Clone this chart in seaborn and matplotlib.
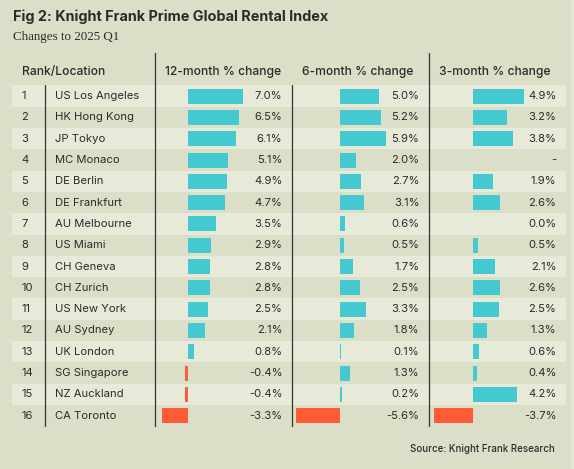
import matplotlib
matplotlib.use("Agg")
import matplotlib.pyplot as plt
import matplotlib.transforms as mtransforms
import numpy as np
import pandas as pd
import seaborn as sns

# ---------------------------------------------------------------------------
# Data (read off the Knight Frank table)
# ---------------------------------------------------------------------------
ranks = list(range(1, 17))
locations = ["US Los Angeles", "HK Hong Kong", "JP Tokyo", "MC Monaco",
             "DE Berlin", "DE Frankfurt", "AU Melbourne", "US Miami",
             "CH Geneva", "CH Zurich", "US New York", "AU Sydney",
             "UK London", "SG Singapore", "NZ Auckland", "CA Toronto"]
change_12m = [7.0, 6.5, 6.1, 5.1, 4.9, 4.7, 3.5, 2.9,
              2.8, 2.8, 2.5, 2.1, 0.8, -0.4, -0.4, -3.3]
change_6m = [5.0, 5.2, 5.9, 2.0, 2.7, 3.1, 0.6, 0.5,
             1.7, 2.5, 3.3, 1.8, 0.1, 1.3, 0.2, -5.6]
change_3m = [4.9, 3.2, 3.8, np.nan, 1.9, 2.6, 0.0, 0.5,
             2.1, 2.6, 2.5, 1.3, 0.6, 0.4, 4.2, -3.7]
headers = ["12-month % change", "6-month % change", "3-month % change"]

# ---------------------------------------------------------------------------
# Style
# ---------------------------------------------------------------------------
sns.set_style("white")
plt.rcParams["font.family"] = ["Inter", "DejaVu Sans"]

BG = "#dcdfc8"
STRIPE = "#e7ead8"
TEAL = "#45c9d1"
RED = "#ff5b36"
INK = "#2b2b2b"
LINE = "#333333"

W, H = 574, 469
ROW_TOP = 85.5
PITCH = 21.3
ROW_BOTTOM = ROW_TOP + 16 * PITCH

fig = plt.figure(figsize=(W / 100, H / 100), dpi=100, facecolor=BG)

# background axes in pixel coordinates for stripes, rules and text
bg = fig.add_axes([0, 0, 1, 1])
bg.set_xlim(0, W)
bg.set_ylim(H, 0)
bg.axis("off")
bg.set_facecolor(BG)

bg.axvspan(571, W, color="#e6e8d7", lw=0)

for i in range(16):
    if i % 2 == 0:
        bg.fill_between([12, 566], ROW_TOP + i * PITCH, ROW_TOP + (i + 1) * PITCH,
                        color=STRIPE, lw=0)

bg.text(13, 17, "Fig 2: Knight Frank Prime Global Rental Index",
        fontsize=10.4, fontweight="bold", color=INK, va="center", ha="left")
bg.text(13, 37, "Changes to 2025 Q1", fontsize=9.4, color=INK,
        va="center", ha="left", family=["Liberation Serif", "DejaVu Serif"])

bg.text(22, 72, "Rank/Location", fontsize=8.7, fontweight="medium",
        color=INK, va="center")
for x, h in zip([165, 302, 439], headers):
    bg.text(x, 72, h, fontsize=8.7, fontweight="medium", color=INK, va="center")

for i, (r, loc) in enumerate(zip(ranks, locations)):
    yc = ROW_TOP + (i + 0.5) * PITCH
    bg.text(21, yc, str(r), fontsize=8.1, color=INK, va="center", ha="left")
    bg.text(55, yc, loc, fontsize=8.1, color=INK, va="center", ha="left")

for x, y0 in [(45, ROW_TOP), (155, 53), (292, ROW_TOP), (429, 53)]:
    bg.plot([x, x], [y0, ROW_BOTTOM], color=LINE, lw=0.9)

bg.text(555, 449, "Source: Knight Frank Research", fontsize=7, fontweight="medium",
        color=INK, va="center", ha="right")

# ---------------------------------------------------------------------------
# Bar columns: (values, left px, zero px, px per %)
# ---------------------------------------------------------------------------
columns = [
    (change_12m, 155, 188, 7.86),
    (change_6m, 292, 340, 7.83),
    (change_3m, 429, 473, 10.5),
]

for vals, x0, zero, scale in columns:
    ax = fig.add_axes([x0 / W, (H - ROW_BOTTOM) / H, 137 / W, 16 * PITCH / H])
    df = pd.DataFrame({
        "Location": locations,
        "Change": vals,
        "Dir": ["down" if (v < 0) else "up" for v in vals],
    })
    sns.barplot(data=df, x="Change", y="Location", hue="Dir", order=locations,
                palette={"up": TEAL, "down": RED}, dodge=False, width=0.7,
                saturation=1, legend=False, errorbar=None, orient="h", ax=ax,
                linewidth=0)
    ax.set_xlim(-(zero - x0) / scale, (x0 + 137 - zero) / scale)
    ax.set_ylim(15.5, -0.5)
    ax.axis("off")
    ax.patch.set_alpha(0)
    trans = mtransforms.blended_transform_factory(ax.transAxes, ax.transData)
    for i, v in enumerate(vals):
        label = "-" if np.isnan(v) else f"{v:.1f}%"
        ax.text(0.93, i, label, transform=trans, fontsize=8.1, color=INK,
                ha="right", va="center")

fig.savefig("out.png", dpi=100, facecolor=BG)
